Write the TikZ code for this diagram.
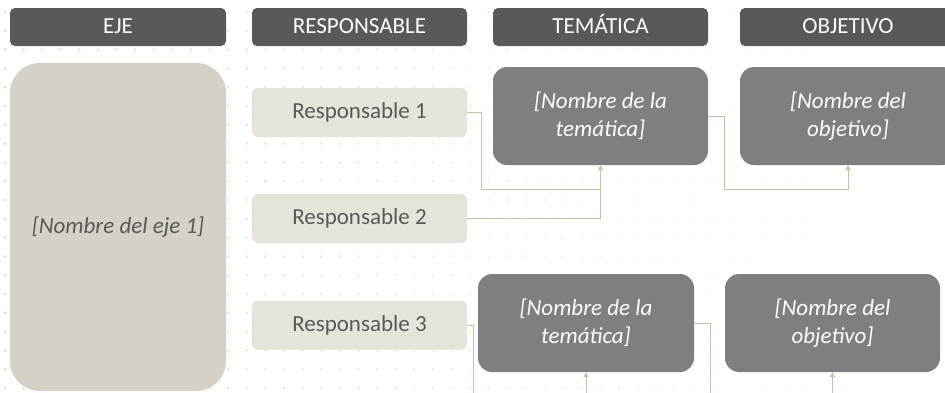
\documentclass[tikz,border=0pt]{standalone}
\usepackage{fontspec}
\setmainfont{Carlito}
\usetikzlibrary{arrows.meta}
\definecolor{hdr}{HTML}{595959}
\definecolor{ejefill}{HTML}{D6D1C6}
\definecolor{respfill}{HTML}{E6E3DB}
\definecolor{temfill}{HTML}{7F7F7F}
\definecolor{conn}{HTML}{C9C1A3}
\definecolor{dotc}{HTML}{DCDCDC}
\definecolor{txt}{HTML}{595959}
\tikzset{
  hdrbox/.style={rectangle, rounded corners=5pt, fill=hdr, text=white, minimum height=38pt, inner sep=0pt, text height=15pt, text depth=3pt, font=\fontsize{23}{27}\selectfont},
  ejebox/.style={rectangle, rounded corners=30pt, fill=ejefill, text=txt, minimum width=216pt, minimum height=328pt, inner sep=0pt, font=\fontsize{23}{27}\selectfont\itshape},
  respbox/.style={rectangle, rounded corners=6pt, fill=respfill, text=txt, minimum width=215pt, minimum height=49pt, inner sep=0pt, font=\fontsize{23}{27}\selectfont},
  tembox/.style={rectangle, rounded corners=14pt, fill=temfill, text=white, minimum height=98pt, inner sep=0pt, align=center, font=\fontsize{23}{28}\selectfont\itshape},
  link/.style={draw=conn, line width=0.9pt},
  arr/.style={link, -{Triangle[width=5pt,length=5pt]}},
}
\begin{document}
\begin{tikzpicture}[x=1pt,y=-1pt]
\useasboundingbox (0,0) rectangle (945,392);
\clip (0,0) rectangle (945,392);
\fill[white] (0,0) rectangle (945,392);
% dot grid
\foreach \i in {0,...,48}{
  \foreach \j in {0,...,20}{
    \pgfmathsetmacro\xx{5+\i*18.6}
    \pgfmathsetmacro\yy{12+\j*18.8}
    \pgfmathsetmacro\op{max(0,1-\xx/880)}
    \fill[dotc, opacity=\op] (\xx,\yy) circle (1.4pt);
  }
}
% headers
\node[hdrbox, minimum width=216pt] (hEje) at (118,27) {EJE};
\node[hdrbox, minimum width=215pt] (hResp) at (359.5,27) {RESPONSABLE};
\node[hdrbox, minimum width=215pt] (hTem) at (600.5,27) {TEMÁTICA};
\node[hdrbox, minimum width=216pt] (hObj) at (848,27) {OBJETIVO};
% eje
\node[ejebox] (eje) at (118,227) {[Nombre del eje 1]};
% responsables
\node[respbox] (r1) at (359.5,112.5) {Responsable 1};
\node[respbox] (r2) at (359.5,218.5) {Responsable 2};
\node[respbox] (r3) at (359.5,325) {Responsable 3};
% temáticas / objetivos
\node[tembox, minimum width=215pt] (t1) at (600.5,116) {[Nombre de la\\temática]};
\node[tembox, minimum width=216pt] (o1) at (848,116) {[Nombre del\\objetivo]};
\node[tembox, minimum width=216pt] (t2) at (586,323) {[Nombre de la\\temática]};
\node[tembox, minimum width=215pt] (o2) at (832.5,323) {[Nombre del\\objetivo]};
% connectors
\coordinate (j1) at (481,189);
\coordinate (j2) at (724,189);
\coordinate (b1) at (473,400);
\coordinate (b2) at (586,400);
\coordinate (b3) at (710,400);
\coordinate (b4) at (832.5,400);
\draw[link] (r1.east) -| (j1) -- (j1 -| t1.south);
\draw[arr] (r2.east) -| (t1.south);
\draw[arr] (t1.east) -| (j2) -| (o1.south);
\draw[link] (r3.east) -| (b1);
\draw[arr] (b2) -- (t2.south);
\draw[link] (t2.east) -| (b3);
\draw[arr] (b4) -- (o2.south);
\end{tikzpicture}
\end{document}
